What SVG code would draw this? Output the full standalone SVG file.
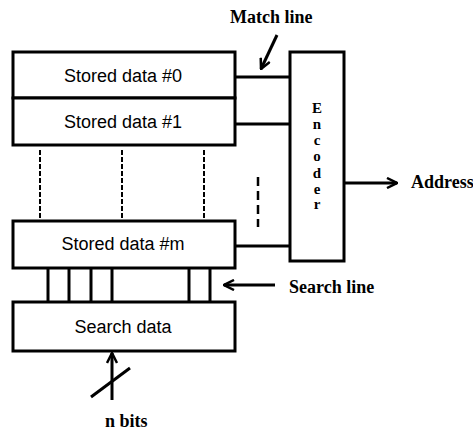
<svg xmlns="http://www.w3.org/2000/svg" width="473" height="433" viewBox="0 0 473 433">
<defs>
<style>
.box{fill:#fff;stroke:#000;stroke-width:3}
.ln{stroke:#000;stroke-width:3;fill:none}
.dash{stroke:#000;stroke-width:2;stroke-dasharray:5 2;fill:none}
.dash2{stroke:#000;stroke-width:2.5;stroke-dasharray:9 5;fill:none}
.lbl{font-family:"Liberation Sans",Arial,sans-serif;font-size:18px;fill:#000;text-anchor:middle}
.bl{font-family:"Liberation Serif","Times New Roman",serif;font-size:18px;font-weight:bold;fill:#000}
.enc{font-family:"Liberation Serif","Times New Roman",serif;font-size:15px;font-weight:bold;fill:#000;text-anchor:middle}
</style>
<marker id="ah" viewBox="0 0 12 12" refX="11" refY="6" markerWidth="12" markerHeight="12" markerUnits="userSpaceOnUse" orient="auto">
<path d="M1,1 L11,6 L1,11" fill="none" stroke="#000" stroke-width="2.5"/>
</marker>
</defs>
<g id="connectors">
<line class="ln" x1="235" y1="77" x2="290" y2="77"/>
<line class="ln" x1="235" y1="124" x2="290" y2="124"/>
<line class="ln" x1="235" y1="246" x2="290" y2="246"/>
<line class="dash" x1="40" y1="150" x2="40" y2="219"/>
<line class="dash" x1="122" y1="150" x2="122" y2="219"/>
<line class="dash" x1="204" y1="150" x2="204" y2="219"/>
<line class="dash2" x1="258" y1="177" x2="258" y2="227"/>
<line class="ln" x1="48" y1="268" x2="48" y2="302"/>
<line class="ln" x1="69" y1="268" x2="69" y2="302"/>
<line class="ln" x1="91" y1="268" x2="91" y2="302"/>
<line class="ln" x1="112" y1="268" x2="112" y2="302"/>
<line class="ln" x1="189" y1="268" x2="189" y2="302"/>
<line class="ln" x1="210" y1="268" x2="210" y2="302"/>
<line class="ln" x1="344" y1="183" x2="397" y2="183" marker-end="url(#ah)"/>
<line class="ln" x1="277" y1="35" x2="261" y2="69" marker-end="url(#ah)"/>
<line class="ln" x1="275" y1="285" x2="224" y2="285" marker-end="url(#ah)"/>
<line class="ln" x1="112" y1="400" x2="112" y2="353" marker-end="url(#ah)"/>
<line class="ln" x1="91" y1="397" x2="130" y2="368"/>
</g>
<g id="stored0"><rect class="box" x="13" y="52" width="222" height="46"/><text class="lbl" x="123" y="82">Stored data #0</text></g>
<g id="stored1"><rect class="box" x="13" y="98" width="222" height="47"/><text class="lbl" x="123" y="128">Stored data #1</text></g>
<g id="storedm"><rect class="box" x="13" y="221" width="222" height="47"/><text class="lbl" x="123" y="250">Stored data #m</text></g>
<g id="search"><rect class="box" x="13" y="302" width="222" height="49"/><text class="lbl" x="123" y="333">Search data</text></g>
<g id="encoder"><rect class="box" x="290" y="52" width="54" height="209"/>
<text class="enc" x="317" y="113">E</text>
<text class="enc" x="317" y="129">n</text>
<text class="enc" x="317" y="145">c</text>
<text class="enc" x="317" y="161">o</text>
<text class="enc" x="317" y="178">d</text>
<text class="enc" x="317" y="194">e</text>
<text class="enc" x="317" y="209">r</text>
</g>
<g id="labels">
<text class="bl" x="411" y="188" font-size="16">Address</text>
<text class="bl" x="230" y="23">Match line</text>
<text class="bl" x="289" y="293">Search line</text>
<text class="bl" x="105" y="427">n bits</text>
</g>
</svg>
